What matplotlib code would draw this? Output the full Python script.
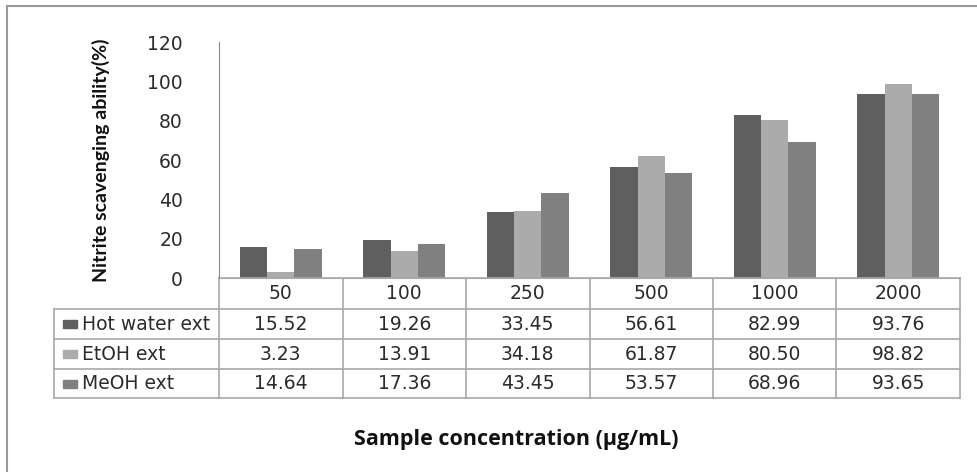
import numpy as np
import matplotlib.pyplot as plt
from matplotlib.patches import Rectangle
from matplotlib.lines import Line2D
import matplotlib.transforms as mtransforms

## data
concentrations = ["50", "100", "250", "500", "1000", "2000"]
series_names = ["Hot water ext", "EtOH ext", "MeOH ext"]
hot_water = [15.52, 19.26, 33.45, 56.61, 82.99, 93.76]
etoh = [3.23, 13.91, 34.18, 61.87, 80.50, 98.82]
meoh = [14.64, 17.36, 43.45, 53.57, 68.96, 93.65]
yticks = [0, 20, 40, 60, 80, 100, 120]

colors = ["#5f5f5f", "#ababab", "#808080"]
W, H = 978, 472
grid_col = "#a8a8a8"
txt_col = "#2b2b2b"
fs = 13.5

fig = plt.figure(figsize=(W / 100, H / 100), dpi=100)
fig.patch.set_facecolor("white")


def fx(px):
    return px / W


def fy(py):
    return 1 - py / H


ax_left, ax_right, ax_top, ax_bottom = 219, 960, 42, 278
ax = fig.add_axes([fx(ax_left), fy(ax_bottom), fx(ax_right - ax_left), (ax_bottom - ax_top) / H])

x = np.arange(len(concentrations))
bw = 0.222
for i, vals in enumerate([hot_water, etoh, meoh]):
    ax.bar(x + (i - 1) * bw, vals, width=bw, color=colors[i], label=series_names[i], zorder=2)

ax.set_xlim(-0.5, len(concentrations) - 0.5)
ax.set_ylim(0, 120)
ax.set_yticks(yticks)
ax.set_yticklabels([str(v) for v in yticks], fontsize=fs, color=txt_col, family="DejaVu Sans")
ax.tick_params(axis="y", length=0, pad=26)
ax.set_xticks([])
for s in ["top", "right"]:
    ax.spines[s].set_visible(False)
ax.spines["left"].set_color("#8a8a8a")
ax.spines["bottom"].set_color(grid_col)
ax.set_facecolor("none")

ax.set_ylabel("Nitrite scavenging ability(%)", fontsize=14, fontweight="bold",
              family="Lato", color="#111111", labelpad=18)
ax.yaxis.set_label_coords(-0.147, 0.5)

## data table under the axis (x in data units, y in axes fraction)
trans = mtransforms.blended_transform_factory(ax.transData, ax.transAxes)
ah = ax_bottom - ax_top
px2data = len(concentrations) / (ax_right - ax_left)


def ay(py):
    return (ax_bottom - py) / ah


row_edges = [278, 309, 339, 369, 398]
label_left = (54 - ax_left) * px2data - 0.5
xr = len(concentrations) - 0.5

# horizontal lines
for k, py in enumerate(row_edges):
    x0 = -0.5 if k == 0 else label_left
    ax.add_line(Line2D([x0, xr], [ay(py)] * 2, transform=trans, color=grid_col, lw=1.2, clip_on=False))
# vertical lines
for c in range(len(concentrations) + 1):
    ax.add_line(Line2D([c - 0.5] * 2, [ay(278), ay(398)], transform=trans, color=grid_col, lw=1.2, clip_on=False))
ax.add_line(Line2D([label_left] * 2, [ay(309), ay(398)], transform=trans, color=grid_col, lw=1.2, clip_on=False))

# header row
hc = ay((278 + 309) / 2)
for c, lab in enumerate(concentrations):
    ax.text(c, hc, lab, transform=trans, ha="center", va="center", fontsize=fs,
            color=txt_col, family="DejaVu Sans", clip_on=False)

# value rows with legend swatches
for r, vals in enumerate([hot_water, etoh, meoh]):
    yc = ay((row_edges[r + 1] + row_edges[r + 2]) / 2)
    ax.add_patch(Rectangle((label_left + 9 * px2data, yc - 4 / ah), 14 * px2data, 8 / ah,
                           transform=trans, color=colors[r], clip_on=False))
    ax.text(label_left + 28 * px2data, yc, series_names[r], transform=trans,
            ha="left", va="center", fontsize=fs, color=txt_col, family="DejaVu Sans", clip_on=False)
    for c, v in enumerate(vals):
        ax.text(c, yc, f"{v:.2f}", transform=trans, ha="center", va="center", fontsize=fs,
                color=txt_col, family="DejaVu Sans", clip_on=False)

fig.text(fx(516), fy(440), "Sample concentration (μg/mL)", ha="center", va="center",
         fontsize=15.5, fontweight="bold", family="Open Sans", color="#111111")

# outer frame (left and top edges only, rest is cropped off)
fig.add_artist(Line2D([fx(7), fx(7)], [fy(6), 0], transform=fig.transFigure, color="#9a9a9a", lw=1.5))
fig.add_artist(Line2D([fx(7), 1], [fy(6), fy(6)], transform=fig.transFigure, color="#9a9a9a", lw=1.5))

fig.savefig("out.png", dpi=100, facecolor="white")
